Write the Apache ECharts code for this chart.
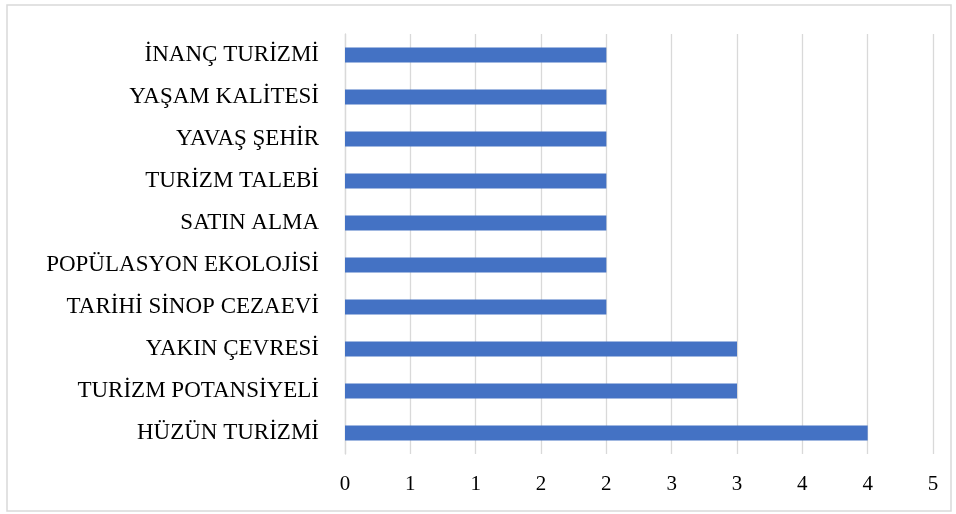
<!DOCTYPE html>
<html>
<head>
<meta charset="utf-8">
<script src="https://cdn.jsdelivr.net/npm/echarts@6/dist/echarts.min.js"></script>
<style>
  html, body { margin: 0; padding: 0; background: #fff; }
  #chart { width: 956px; height: 514px; }
</style>
</head>
<body>
<div id="chart"></div>
<script>
// top to bottom as drawn
const categories = [
  "İNANÇ TURİZMİ",
  "YAŞAM KALİTESİ",
  "YAVAŞ ŞEHİR",
  "TURİZM TALEBİ",
  "SATIN ALMA",
  "POPÜLASYON EKOLOJİSİ",
  "TARİHİ SİNOP CEZAEVİ",
  "YAKIN ÇEVRESİ",
  "TURİZM POTANSİYELİ",
  "HÜZÜN TURİZMİ",
];
const counts = [2, 2, 2, 2, 2, 2, 2, 3, 3, 4];

const serif = "'Liberation Serif', 'DejaVu Serif', serif";

const chart = echarts.init(document.getElementById("chart"), null, {
  renderer: "canvas",
});

chart.setOption({
  animation: false,
  grid: { left: 345, right: 23, top: 34, bottom: 60 },
  xAxis: {
    type: "value",
    min: 0,
    max: 4.5,
    interval: 0.5,
    axisLine: { show: false },
    axisTick: { show: false },
    axisLabel: {
      margin: 20,
      color: "#000",
      fontFamily: serif,
      fontSize: 21,
      formatter: (v) => String(Math.round(v)),
    },
    splitLine: { lineStyle: { color: "#d9d9d9", width: 1.3 } },
  },
  yAxis: {
    type: "category",
    inverse: true,
    data: categories,
    axisLine: { lineStyle: { color: "#d9d9d9", width: 1.3 } },
    axisTick: { show: false },
    axisLabel: {
      margin: 26,
      color: "#000",
      fontFamily: serif,
      fontSize: 23,
    },
  },
  series: [
    {
      type: "bar",
      data: counts,
      barWidth: 15,
      itemStyle: { color: "#4472c4" },
    },
  ],
  graphic: [
    {
      type: "rect",
      shape: { x: 7, y: 5, width: 944, height: 506 },
      style: { fill: "none", stroke: "#d9d9d9", lineWidth: 1.5 },
      silent: true,
    },
  ],
});
</script>
</body>
</html>
